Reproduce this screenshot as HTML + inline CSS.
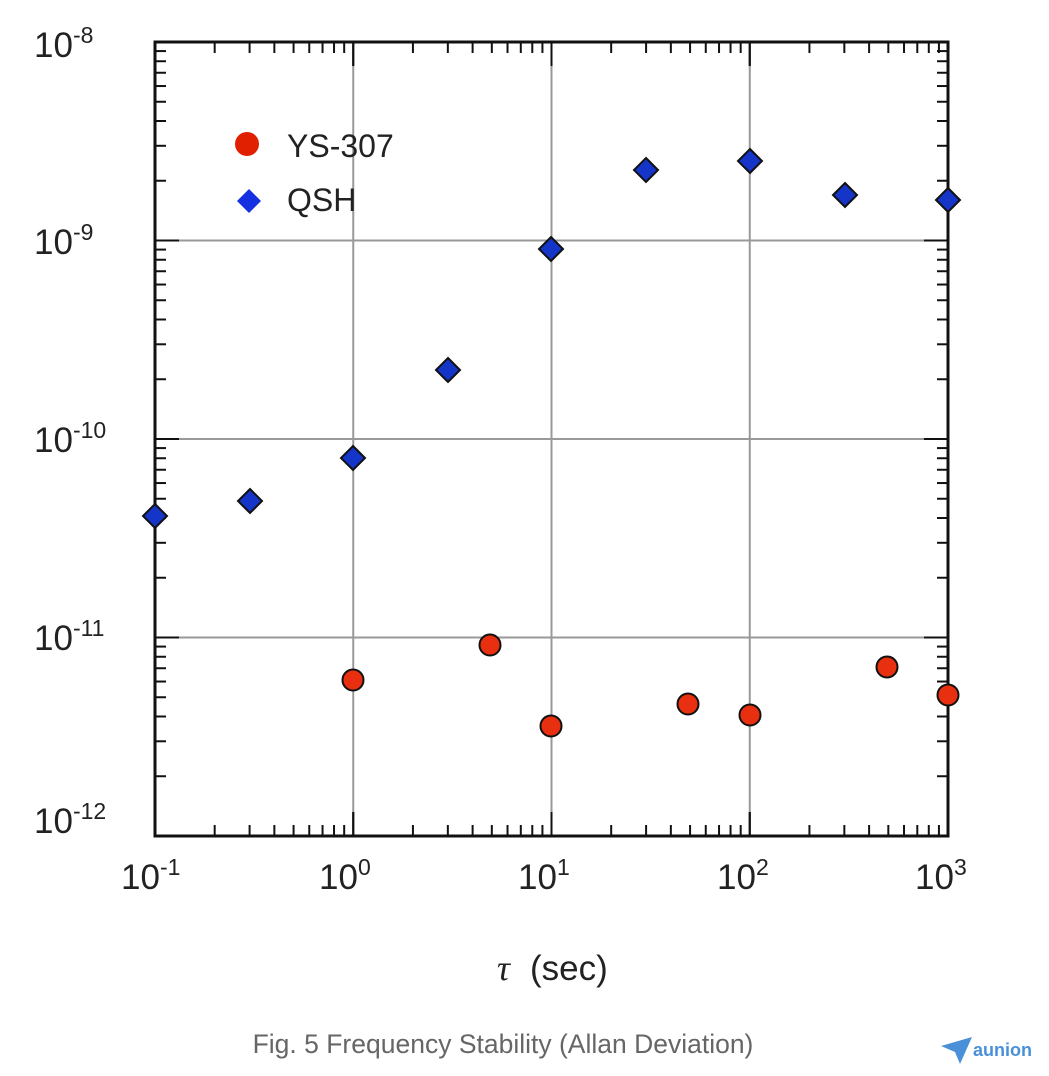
<!DOCTYPE html>
<html><head><meta charset="utf-8"><style>
html,body{margin:0;padding:0;background:#fff;}
body{width:1049px;height:1076px;position:relative;overflow:hidden;font-family:"Liberation Sans",sans-serif;}
</style></head><body>
<svg id="s" width="1049" height="1076" viewBox="0 0 1049 1076" xmlns="http://www.w3.org/2000/svg" style="position:absolute;left:0;top:0">
<g id="grid" stroke="#999" stroke-width="2"></g>
<g id="ticks" stroke="#111" stroke-width="2"></g>
<rect x="155" y="42" width="793" height="794" fill="none" stroke="#111" stroke-width="3"/>
<g id="pts"></g>
<g font-family="Liberation Sans, sans-serif" fill="#222" font-size="35">
<text x="34" y="57">10<tspan font-size="23" dy="-14">-8</tspan></text>
<text x="34" y="254">10<tspan font-size="23" dy="-14">-9</tspan></text>
<text x="34" y="452">10<tspan font-size="23" dy="-14">-10</tspan></text>
<text x="34" y="650">10<tspan font-size="23" dy="-14">-11</tspan></text>
<text x="34" y="833">10<tspan font-size="23" dy="-14">-12</tspan></text>
<text x="121" y="889">10<tspan font-size="23" dy="-14">-1</tspan></text>
<text x="319" y="889">10<tspan font-size="23" dy="-14">0</tspan></text>
<text x="518" y="889">10<tspan font-size="23" dy="-14">1</tspan></text>
<text x="717" y="889">10<tspan font-size="23" dy="-14">2</tspan></text>
<text x="915" y="889">10<tspan font-size="23" dy="-14">3</tspan></text>
<text x="497" y="980" font-size="36" font-family="Liberation Serif, serif" font-style="italic">τ</text>
<text x="530" y="980" font-size="35">(sec)</text>
<text x="287" y="157" font-size="32">YS-307</text>
<text x="287" y="211" font-size="32">QSH</text>
</g>
<circle cx="247" cy="144" r="12" fill="#e02000"/>
<polygon points="249,189 261,201 249,213 237,201" fill="#1530e0"/>
<text x="503" y="1053" text-anchor="middle" font-family="Liberation Sans, sans-serif" font-size="26.5" fill="#666">Fig. 5 Frequency Stability (Allan Deviation)</text>
<polygon points="941,1046 972,1037 960,1064 955,1052" fill="#4a90d9"/>
<text x="973" y="1056" font-family="Liberation Sans, sans-serif" font-weight="bold" font-size="18" fill="#4a90d9">aunion</text>
</svg>
<script>
const ns="http://www.w3.org/2000/svg";
function el(p,t,a){const e=document.createElementNS(ns,t);for(const k in a)e.setAttribute(k,a[k]);document.getElementById(p).appendChild(e);return e;}
const X0=155,XD=198.25,Y0=836,YD=198.5;
for(let d=0;d<=4;d++){
 let x=X0+d*XD; if(d>0&&d<4) el("grid","line",{x1:x,y1:42,x2:x,y2:836});
 let y=Y0-d*YD; if(d>0&&d<4) el("grid","line",{x1:155,y1:y,x2:948,y2:y});
}
for(let d=0;d<4;d++){for(let m=1;m<=10;m++){
 let f=Math.log10(m); let L=(m==1||m==10)?24:11;
 let x=X0+(d+f)*XD;
 el("ticks","line",{x1:x,y1:836,x2:x,y2:836-L});el("ticks","line",{x1:x,y1:42,x2:x,y2:42+L});
 let y=Y0-(d+f)*YD;
 el("ticks","line",{x1:155,y1:y,x2:155+L,y2:y});el("ticks","line",{x1:948,y1:y,x2:948-L,y2:y});
}}
const q=[[155,516],[250,501],[353,458],[448,370],[551,249],[646,170],[750,161],[845,195],[948,200]];
for(const [x,y] of q) el("pts","polygon",{points:`${x},${y-12} ${x+12},${y} ${x},${y+12} ${x-12},${y}`,fill:"#1535c8",stroke:"#111","stroke-width":2});
const c=[[353,680],[490,645],[551,726],[688,704],[750,715],[887,667],[948,695]];
for(const [x,y] of c) el("pts","circle",{cx:x,cy:y,r:10.5,fill:"#e83010",stroke:"#111","stroke-width":2});
</script>
</body></html>
